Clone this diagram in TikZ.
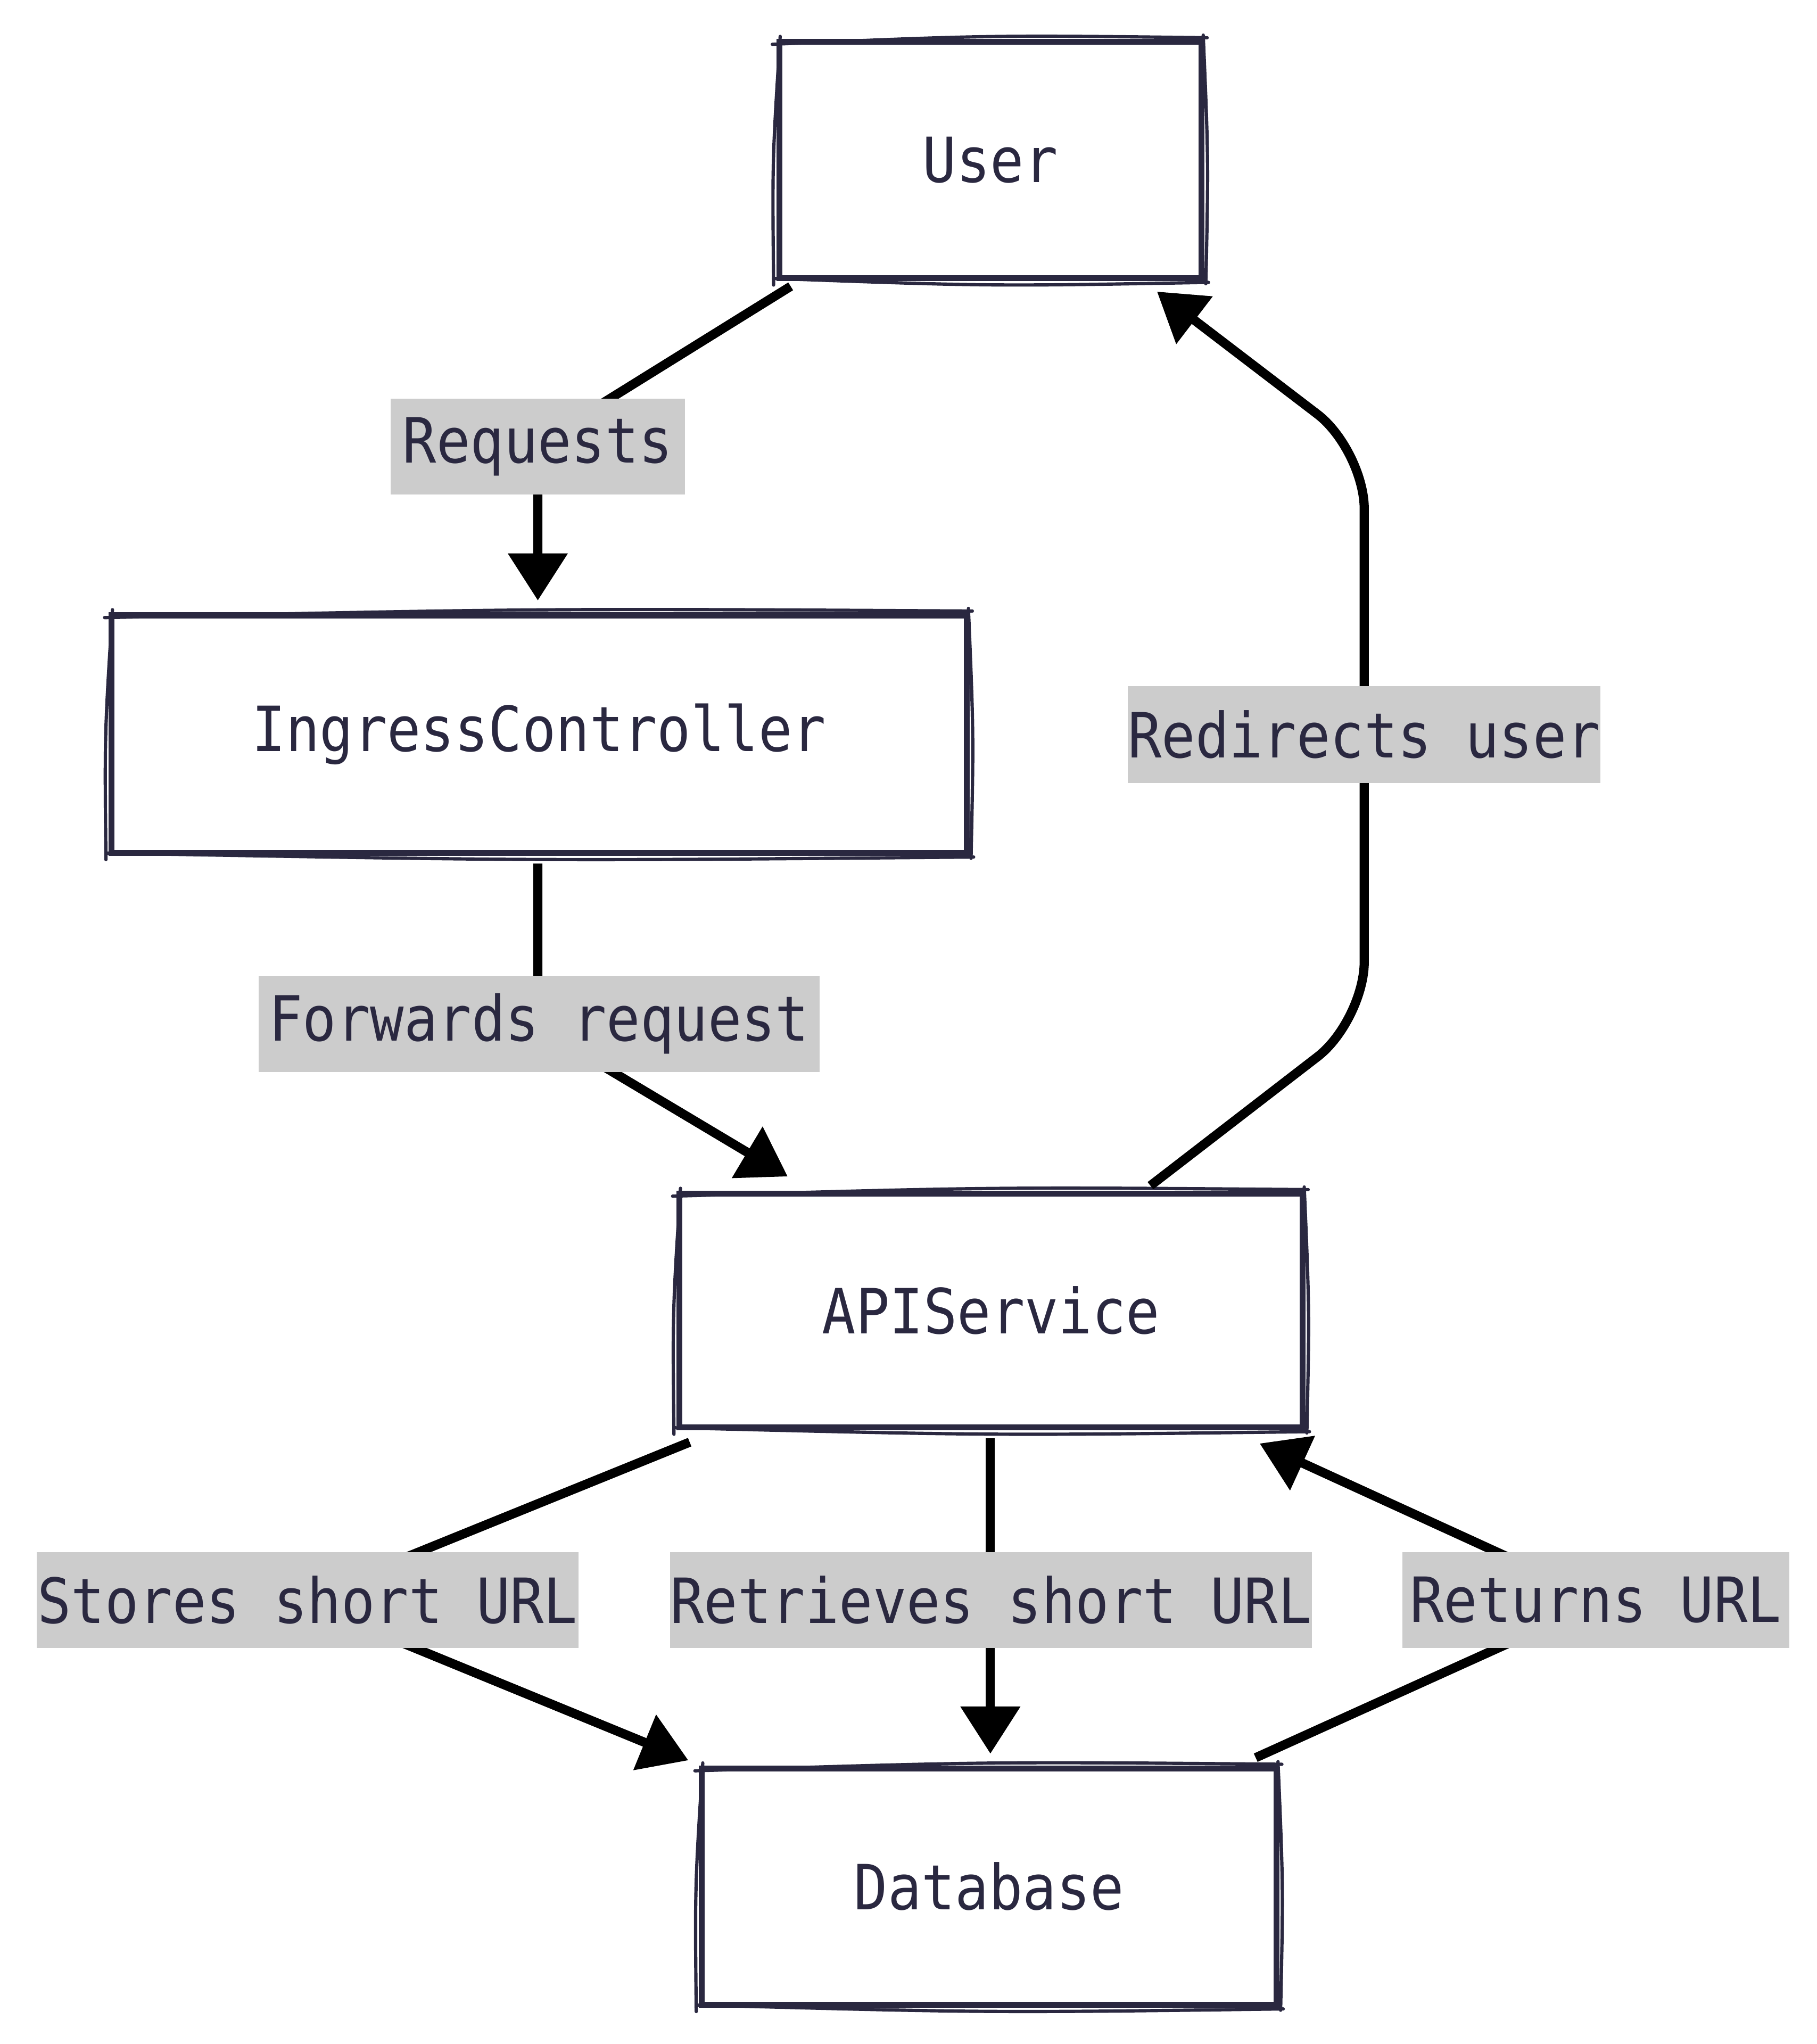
\documentclass[tikz,border=0pt]{standalone}
\usepackage{fontspec}
\newfontfamily\diafont[FakeStretch=0.9]{DejaVu Sans Mono}
\usetikzlibrary{arrows.meta}
\definecolor{ink}{HTML}{2A2840}
\definecolor{lab}{HTML}{CCCCCC}
\newcommand\roughbox[1]{%
  \draw[sk] ([shift={(-3,4)}]#1.north west) .. controls ([shift={(0,-3)}]#1.north) .. ([shift={(2,-1)}]#1.north east);
  \draw[sk] ([shift={(-2,-2)}]#1.south west) .. controls ([shift={(0,4)}]#1.south) .. ([shift={(3,1)}]#1.south east);
  \draw[sk] ([shift={(3,-2)}]#1.north west) .. controls ([shift={(-3,0)}]#1.west) .. ([shift={(-2,3)}]#1.south west);
  \draw[sk] ([shift={(-1,-3)}]#1.north east) .. controls ([shift={(3,0)}]#1.east) .. ([shift={(1,2)}]#1.south east);
}
\begin{document}
\begin{tikzpicture}[x=1pt,y=-1pt,
  txt/.style={font=\diafont\fontsize{47.5}{56}\selectfont, text=ink},
  box/.style={txt, draw=ink, line width=4.5pt, inner sep=0pt, fill=white},
  lbl/.style={txt, fill=lab, inner sep=0pt, minimum height=73pt},
  edge/.style={draw=black, line width=7pt, line join=round, -{Triangle[length=36pt,width=44pt]}},
  sk/.style={draw=ink, line width=2.5pt, line cap=round}
]
\useasboundingbox (0,0) rectangle (1385,1558);
\fill[white] (0,0) rectangle (1385,1558);

% nodes
\node[box, minimum width=322pt, minimum height=180pt] (u) at (755,122) {User};
\node[box, minimum width=652pt, minimum height=181pt] (ic) at (411,559.5) {IngressController};
\node[box, minimum width=475pt, minimum height=178pt] (api) at (755.5,999) {APIService};
\node[box, minimum width=438pt, minimum height=180pt] (db) at (754,1438) {Database};
\roughbox{u}
\roughbox{ic}
\roughbox{api}
\roughbox{db}

% connectors
\draw[edge] ([shift={(11,4)}]u.south west) -- (410,338) -- ([shift={(-1,-9)}]ic.north);
\draw[edge] ([shift={(-1,6)}]ic.south) -- (410,783) -- ([shift={(-155,-11)}]api.north);
\draw[edge, rounded corners=45pt] ([shift={(121.5,-4)}]api.north) -- (1040,778) -- (1040,343) -- ([shift={(127,8)}]u.south);
\draw[edge] ([shift={(10,9)}]api.south west) -- (228,1220) -- ([shift={(-8,-4)}]db.north west);
\draw[edge] ([shift={(-0.5,6)}]api.south) -- ([shift={(1,-9)}]db.north);
\draw[edge] ([shift={(-18,-6)}]db.north east) -- (1222,1220) -- ([shift={(-35,10)}]api.south east);

% labels
\node[lbl, minimum width=224pt] (l1) at (410,340.5) {Requests};
\node[lbl, minimum width=354pt, minimum height=74pt] (l2) at (1040,560) {Redirects user};
\node[lbl, minimum width=428pt] (l3) at (411,780.5) {Forwards request};
\node[lbl, minimum width=413pt] (l4) at (234.5,1219.5) {Stores short URL};
\node[lbl, minimum width=487pt] (l5) at (755.5,1219.5) {Retrieves short URL};
\node[lbl, minimum width=295pt] (l6) at (1216.5,1219.5) {Returns URL};
\end{tikzpicture}
\end{document}
